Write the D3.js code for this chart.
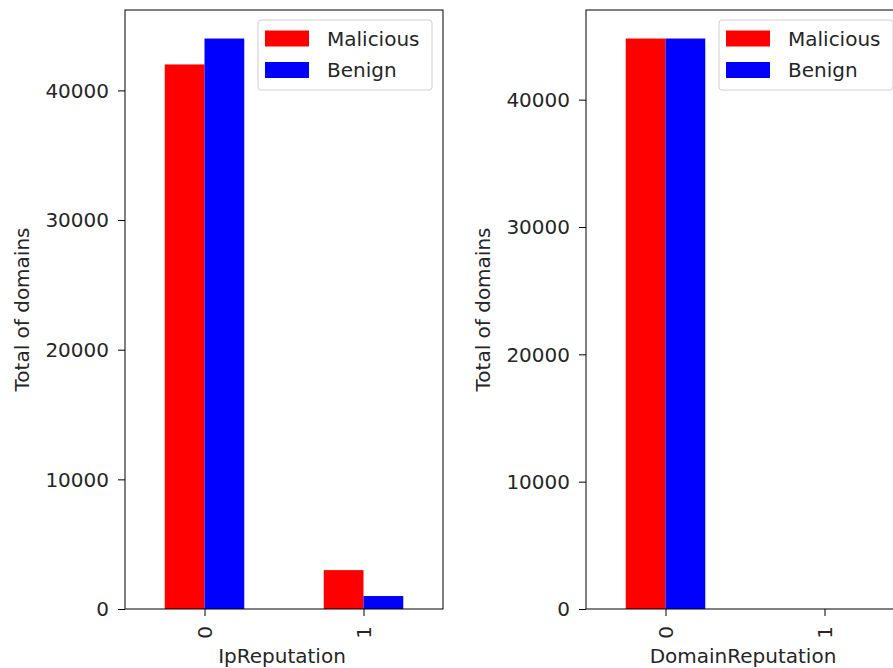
<!DOCTYPE html>
<html>
<head>
<meta charset="utf-8">
<script src="https://cdn.jsdelivr.net/npm/d3@7"></script>
<style>
  html, body { margin: 0; padding: 0; background: #fff; overflow: hidden; }
  svg { display: block; font-family: "DejaVu Sans", sans-serif; }
</style>
</head>
<body>
<svg id="chart" width="893" height="668"></svg>
<script>
// Categories on each x axis
const categories = ["0", "1"];
const seriesNames = ["Malicious", "Benign"];
const seriesColors = ["#ff0000", "#0000ff"];

// IpReputation counts per category
const ipMalicious = [42000, 3000];
const ipBenign = [44000, 1000];

// DomainReputation counts per category
const domMalicious = [44800, 0];
const domBenign = [44800, 0];

const yTicks = [0, 10000, 20000, 30000, 40000];

const FONT = 20;
const TEXT = "#262626";
const svg = d3.select("#chart");

function panel(left, title, malicious, benign) {
  const top = 10, bottom = 609, width = 318;
  const g = svg.append("g");
  const maxVal = d3.max([...malicious, ...benign]) * 1.05;

  const x = d3.scaleLinear().domain([-0.5, 1.5]).range([left, left + width]);
  const y = d3.scaleLinear().domain([0, maxVal]).range([bottom, top]);
  const barW = 0.25;

  [malicious, benign].forEach((vals, si) => {
    g.selectAll(null)
      .data(vals)
      .enter()
      .append("rect")
      .attr("x", (d, i) => x(i - barW + si * barW))
      .attr("width", x(barW) - x(0))
      .attr("y", d => y(d))
      .attr("height", d => y(0) - y(d))
      .attr("fill", seriesColors[si]);
  });

  // Y axis
  const yAxis = d3.axisLeft(y).tickValues(yTicks).tickSize(7).tickPadding(9)
    .tickFormat(d3.format("d"));
  const ya = g.append("g").attr("transform", `translate(${left},0)`).call(yAxis);
  ya.attr("font-size", null).attr("font-family", null);
  ya.select(".domain").remove();
  ya.selectAll("text").attr("font-size", FONT).attr("fill", TEXT).attr("dy", "0.34em");
  ya.selectAll("line").attr("stroke", "#000").attr("stroke-width", 1);

  // X axis
  const xAxis = d3.axisBottom(x).tickValues([0, 1]).tickSize(7)
    .tickFormat(i => categories[i]);
  const xa = g.append("g").attr("transform", `translate(0,${bottom})`).call(xAxis);
  xa.attr("font-size", null).attr("font-family", null);
  xa.select(".domain").remove();
  xa.selectAll("line").attr("stroke", "#000").attr("stroke-width", 1);
  xa.selectAll("text")
    .attr("font-size", FONT).attr("fill", TEXT)
    .attr("transform", "rotate(-90)")
    .attr("x", -17).attr("y", 0).attr("dy", "0.35em")
    .style("text-anchor", "end");

  // Frame
  g.append("rect")
    .attr("x", left).attr("y", top)
    .attr("width", width).attr("height", bottom - top)
    .attr("fill", "none").attr("stroke", "#000").attr("stroke-width", 1);

  // Axis labels
  g.append("text")
    .attr("x", left + width / 2 - 2).attr("y", 663)
    .attr("text-anchor", "middle").attr("font-size", FONT).attr("fill", TEXT)
    .text(title);
  g.append("text")
    .attr("transform", `translate(${left - 96},${(top + bottom) / 2}) rotate(-90)`)
    .attr("text-anchor", "middle").attr("font-size", FONT).attr("fill", TEXT)
    .text("Total of domains");

  // Legend
  const lx = left + width - 185, ly = 20;
  const lg = g.append("g");
  lg.append("rect")
    .attr("x", lx).attr("y", ly).attr("width", 174).attr("height", 70)
    .attr("rx", 3).attr("fill", "#fff").attr("fill-opacity", 0.8)
    .attr("stroke", "#d0d0d0").attr("stroke-width", 1);
  seriesNames.forEach((name, i) => {
    lg.append("rect")
      .attr("x", lx + 7).attr("y", ly + 10.5 + i * 31.5)
      .attr("width", 44).attr("height", 16)
      .attr("fill", seriesColors[i]);
    lg.append("text")
      .attr("x", lx + 69).attr("y", ly + 18.5 + i * 31.5).attr("dy", "0.35em")
      .attr("font-size", FONT).attr("fill", TEXT)
      .text(name);
  });
}

panel(125, "IpReputation", ipMalicious, ipBenign);
panel(586, "DomainReputation", domMalicious, domBenign);
</script>
</body>
</html>
